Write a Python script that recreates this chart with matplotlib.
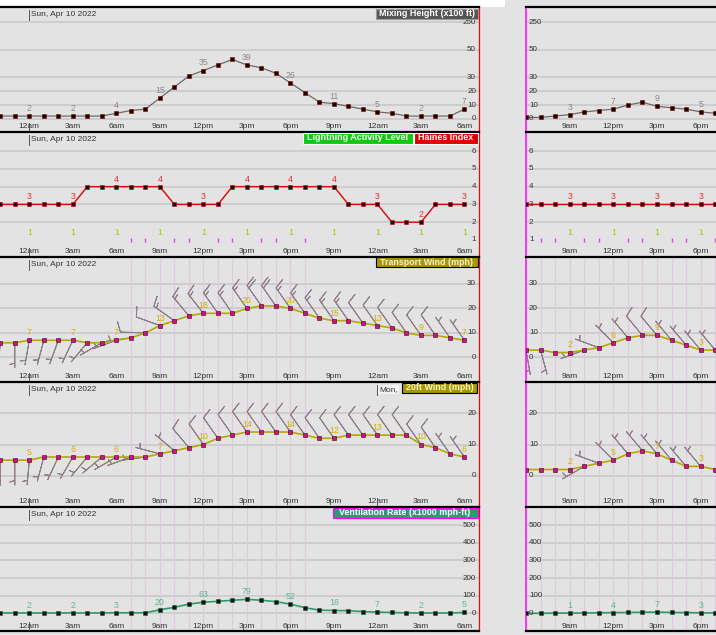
import numpy as np
import matplotlib
matplotlib.use("Agg")
import matplotlib.pyplot as plt
from matplotlib.patches import Rectangle
from matplotlib.ticker import NullLocator

plt.rcParams["font.family"] = ["Liberation Sans", "DejaVu Sans"]

W, H = 716, 635

# hourly time axis, hours relative to Sun 12am
hours_main = np.arange(-2, 31)
hours_ext = np.arange(6, 20)
daylight = np.arange(7, 20)

tick_hours_main = np.arange(0, 31, 3)
tick_labels_main = ["12am", "3am", "6am", "9am", "12pm", "3pm", "6pm",
                    "9pm", "12am", "3am", "6am"]
tick_hours_ext = np.array([9, 12, 15, 18])
tick_labels_ext = ["9am", "12pm", "3pm", "6pm"]

day_label = "Sun, Apr 10 2022"
day_hour = 0
next_day_label = "Mon,"
next_day_hour = 24

# Mixing height (x100 ft)
mixing_main = [2, 2, 2, 2, 2, 2, 2, 2, 4, 6, 7, 15, 23, 31, 35, 39, 43, 39, 37, 33,
               26, 19, 12, 11, 9, 7, 5, 4, 2, 2, 2, 2, 7]
mixing_ext = [1, 1, 2, 3, 5, 6, 7, 10, 12, 9, 8, 7, 5, 4]

# Haines index and lightning activity level
haines_main = [3, 3, 3, 3, 3, 3, 4, 4, 4, 4, 4, 4, 3, 3, 3, 3, 4, 4, 4, 4,
               4, 4, 4, 4, 3, 3, 3, 2, 2, 2, 3, 3, 3]
haines_ext = [3] * 14
lal_main = [1] * 33
lal_ext = [1] * 14

# Transport wind (mph) and direction (deg)
transport_main = [6, 6, 7, 7, 7, 7, 6, 6, 7, 8, 10, 13, 15, 17, 18, 18, 18, 20, 21, 21,
                  20, 18, 16, 15, 15, 14, 13, 12, 10, 9, 9, 8, 7]
transport_dir_main = [185, 180, 190, 195, 200, 205, 220, 240, 250, 262, 272, 290, 305,
                      320, 322, 325, 325, 325, 325, 325, 325, 325, 325, 325, 325, 325,
                      325, 325, 325, 325, 325, 325, 325]
transport_ext = [3, 3, 2, 2, 3, 4, 6, 8, 9, 9, 7, 5, 3, 3]
transport_dir_ext = [170, 165, 160, 170, 250, 290, 315, 320, 320, 320, 320, 320, 320, 320]

# 20ft wind (mph) and direction (deg)
wind20_main = [5, 5, 5, 6, 6, 6, 6, 6, 6, 6, 6, 7, 8, 9, 10, 12, 13, 14, 14, 14,
               14, 13, 12, 12, 13, 13, 13, 13, 13, 10, 9, 7, 6]
wind20_dir_main = [180, 180, 185, 195, 205, 210, 220, 230, 240, 250, 262, 285, 310,
                   320, 325, 325, 325, 325, 325, 325, 325, 325, 325, 325, 325, 325,
                   325, 325, 325, 325, 325, 325, 325]
wind20_ext = [2, 2, 2, 2, 3, 4, 5, 7, 8, 7, 5, 3, 3, 2]
wind20_dir_ext = [200, 200, 205, 210, 240, 290, 315, 320, 320, 320, 320, 320, 320, 320]

# Ventilation rate (x1000 mph-ft)
vent_main = [2, 2, 2, 2, 2, 2, 2, 2, 3, 3, 3, 20, 34, 52, 63, 68, 74, 79, 74, 66,
             52, 32, 18, 16, 15, 10, 7, 5, 2, 2, 2, 2, 5]
vent_ext = [0, 0, 1, 1, 2, 3, 4, 5, 6, 7, 5, 4, 3, 2]

BG = "#e3e3e3"
GRID = "#cbcbcb"
ROW_EDGES = [7.3, 131.5, 256.7, 381.7, 506.7, 631.0]
MAIN_X = (0, 479)
EXT_X = (526, 716)
ROW_H = 124.5

fig = plt.figure(figsize=(W / 100, H / 100), dpi=100, facecolor=BG)
fig.add_artist(Rectangle((0, 1 - 6.5 / H), 505 / W, 6.5 / H,
                         transform=fig.transFigure, fc="white", ec="none", zorder=0))


def add_panel(xr, row):
    y0, y1 = ROW_EDGES[row], ROW_EDGES[row + 1]
    x0, x1 = xr
    return fig.add_axes([x0 / W, 1 - y1 / H, (x1 - x0) / W, (y1 - y0) / H])


def style(ax, main, last):
    ax.set_facecolor(BG)
    for axis in (ax.xaxis, ax.yaxis):
        axis.set_major_locator(NullLocator())
        axis.set_minor_locator(NullLocator())
    for s in ax.spines.values():
        s.set_visible(False)
    ax.spines["top"].set_visible(True)
    ax.spines["top"].set_color("black")
    ax.spines["top"].set_linewidth(1.6)
    if last:
        ax.spines["bottom"].set_visible(True)
        ax.spines["bottom"].set_color("black")
        ax.spines["bottom"].set_linewidth(1.6)
    if main:
        ax.spines["right"].set_visible(True)
        ax.spines["right"].set_color("#ff0000")
        ax.spines["right"].set_linewidth(0.9)
        ax.set_xlim(-2.02, 31.0)
    else:
        ax.spines["left"].set_visible(True)
        ax.spines["left"].set_color("#ff00ff")
        ax.spines["left"].set_linewidth(1.1)
        ax.set_xlim(6.0, 19.05)


def y_axis(ax, main, grid_vals, label_vals, labels):
    for g in grid_vals:
        ax.axhline(g, color=GRID, lw=1.3, zorder=0.5)
    tr = ax.get_yaxis_transform()
    for v, s in zip(label_vals, labels):
        if main:
            ax.text(1 - 3 / 479, v, s, transform=tr, ha="right", va="center",
                    fontsize=5.8, color="#333333", zorder=6)
        else:
            ax.text(3 / 190, v, s, transform=tr, ha="left", va="center",
                    fontsize=5.8, color="#333333", zorder=6)


def x_axis(ax, main):
    hrs = tick_hours_main if main else tick_hours_ext
    labs = tick_labels_main if main else tick_labels_ext
    tr = ax.get_xaxis_transform()
    for h, s in zip(hrs, labs):
        ax.text(h, 5 / ROW_H, s, transform=tr, ha="center", va="center",
                fontsize=6, color="#333333", zorder=6)


def day_marker(ax, h, text, boxed=False):
    tr = ax.get_xaxis_transform()
    ax.plot([h, h], [1 - 3 / ROW_H, 1 - 13 / ROW_H], transform=tr,
            color="#555555", lw=0.7, zorder=6)
    ax.plot([h, h], [0, 9 / ROW_H], transform=tr, color="#555555", lw=0.7, zorder=6)
    kw = {}
    if boxed:
        kw["bbox"] = dict(boxstyle="square,pad=0.12", fc="#f2f2f2", ec="none")
    ax.text(h + 0.13, 1 - 7.5 / ROW_H, text, transform=tr, ha="left", va="center",
            fontsize=6, color="#333333", zorder=6, **kw)


def daylight_lines(ax):
    for h in daylight:
        ax.axvline(h, color="#e2c6e2", lw=0.8, zorder=0.6)


def series(ax, hrs, vals, lcolor, mfc, mec, tcolor, label_hrs, lw=1.0, ms=2.3):
    ax.plot(hrs, vals, color=lcolor, lw=lw, zorder=3)
    ax.plot(hrs, vals, ls="none", marker="s", ms=ms, mfc=mfc, mec=mec, mew=0.4, zorder=4)
    hrs = list(hrs)
    for h in label_hrs:
        v = vals[hrs.index(h)]
        ax.annotate(f"{v:g}", (h, v), xytext=(0, 2.2), textcoords="offset points",
                    ha="center", va="bottom", fontsize=6.3, color=tcolor, zorder=5)


def barbs(ax, hrs, spd, dirs):
    spd = np.asarray(spd, float)
    d = np.deg2rad(np.asarray(dirs, float))
    kt = spd * 0.869
    u = -kt * np.sin(d)
    v = -kt * np.cos(d)
    ax.barbs(hrs, spd, u, v, length=6.0, barbcolor="#8f7f8b", flagcolor="#8f7f8b",
             linewidth=0.7, sizes=dict(emptybarb=0.0), zorder=2)


def title_box(x0, y0, x1, y1, text, fc, ec, tc):
    fig.add_artist(Rectangle((x0 / W, 1 - y1 / H), (x1 - x0) / W, (y1 - y0) / H,
                             transform=fig.transFigure, fc=fc, ec=ec, lw=0.8, zorder=10))
    fig.text((x0 + x1) / 2 / W, 1 - (y0 + y1) / 2 / H, text, ha="center", va="center",
             fontsize=6.4, fontweight="bold", color=tc, zorder=11)


def mh_fwd(y):
    y = np.asarray(y, float)
    return np.where(y <= 50, y, 50 + (y - 50) * 0.1)


def mh_inv(t):
    t = np.asarray(t, float)
    return np.where(t <= 50, t, 50 + (t - 50) * 10)


for main in (True, False):
    xr = MAIN_X if main else EXT_X
    hrs = hours_main if main else hours_ext
    lab_hrs = tick_hours_main if main else tick_hours_ext

    # Row 1: mixing height
    ax = add_panel(xr, 0)
    ax.set_yscale("function", functions=(mh_fwd, mh_inv))
    style(ax, main, False)
    ax.set_ylim(-9.2, 358)
    y_axis(ax, main, [0, 10, 20, 30, 50, 250], [0, 10, 20, 30, 50, 250],
           ["0", "10", "20", "30", "50", "250"])
    series(ax, hrs, mixing_main if main else mixing_ext, "#6a6a6a", "#150000",
           "#8a0000", "#8a8a8a", lab_hrs, lw=0.9)
    x_axis(ax, main)
    if main:
        day_marker(ax, day_hour, day_label)

    # Row 2: Haines index and lightning activity level
    ax = add_panel(xr, 1)
    style(ax, main, False)
    ax.set_ylim(0.06, 7.1)
    y_axis(ax, main, [2, 3, 4, 5, 6], [1, 2, 3, 4, 5, 6], ["1", "2", "3", "4", "5", "6"])
    series(ax, hrs, haines_main if main else haines_ext, "#e00000", "#111111",
           "#cc0000", "#e03030", lab_hrs, lw=1.0)
    lal = lal_main if main else lal_ext
    lh = list(hrs)
    day = [h for h in hrs if (h >= 7 if main else h >= 6) and h <= 19 and h not in lab_hrs]
    ax.plot(day, [lal[lh.index(h)] for h in day], ls="none", marker="|", ms=2.5,
            color="#e040e0", zorder=4)
    for h in lab_hrs:
        ax.annotate(f"{lal[lh.index(h)]:g}", (h, lal[lh.index(h)]), xytext=(0, 2.2),
                    textcoords="offset points", ha="center", va="bottom",
                    fontsize=6.3, color="#8fd400", zorder=5)
    x_axis(ax, main)
    if main:
        day_marker(ax, day_hour, day_label)

    # Row 3: transport wind
    ax = add_panel(xr, 2)
    style(ax, main, False)
    ax.set_ylim(-9.9, 41.1)
    daylight_lines(ax)
    y_axis(ax, main, [0, 10, 20, 30], [0, 10, 20, 30], ["0", "10", "20", "30"])
    barbs(ax, hrs, transport_main if main else transport_ext,
          transport_dir_main if main else transport_dir_ext)
    series(ax, hrs, transport_main if main else transport_ext, "#b5a800", "#d0108a",
           "#400020", "#d4b000", lab_hrs, lw=1.2)
    x_axis(ax, main)
    if main:
        day_marker(ax, day_hour, day_label)

    # Row 4: 20ft wind
    ax = add_panel(xr, 3)
    style(ax, main, False)
    ax.set_ylim(-9.9, 30.1)
    daylight_lines(ax)
    y_axis(ax, main, [0, 10, 20], [0, 10, 20], ["0", "10", "20"])
    barbs(ax, hrs, wind20_main if main else wind20_ext,
          wind20_dir_main if main else wind20_dir_ext)
    series(ax, hrs, wind20_main if main else wind20_ext, "#b5a800", "#d0108a",
           "#400020", "#d4b000", lab_hrs, lw=1.2)
    x_axis(ax, main)
    if main:
        day_marker(ax, day_hour, day_label)
        day_marker(ax, next_day_hour, next_day_label, boxed=True)

    # Row 5: ventilation rate
    ax = add_panel(xr, 4)
    style(ax, main, True)
    ax.set_ylim(-100, 603.6)
    daylight_lines(ax)
    vt = [0, 100, 200, 300, 400, 500]
    y_axis(ax, main, vt, vt, [str(v) for v in vt])
    series(ax, hrs, vent_main if main else vent_ext, "#2e9b6a", "#111111",
           "#1a5a3a", "#5ab890", lab_hrs, lw=1.2)
    x_axis(ax, main)
    if main:
        day_marker(ax, day_hour, day_label)

title_box(376, 8.5, 477.5, 18.5, "Mixing Height (x100 ft)", "#555555", "#9a9a9a", "white")
title_box(302.5, 132.5, 412.5, 143.5, "Lightning Activity Level", "#12c812", "white", "white")
title_box(414, 132.5, 477.5, 143.5, "Haines Index", "#dd0000", "white", "white")
title_box(376, 257.5, 477.5, 267.5, "Transport Wind (mph)", "#a69800", "black", "#f6f2c8")
title_box(401.5, 382.5, 477.5, 392.5, "20ft Wind (mph)", "#a69800", "black", "#f6f2c8")
title_box(332.5, 507.5, 477.5, 517.5, "Ventilation Rate (x1000 mph-ft)", "#2f9a6a",
          "#ff00ff", "white")

fig.savefig("out.png", dpi=100, facecolor=fig.get_facecolor())
